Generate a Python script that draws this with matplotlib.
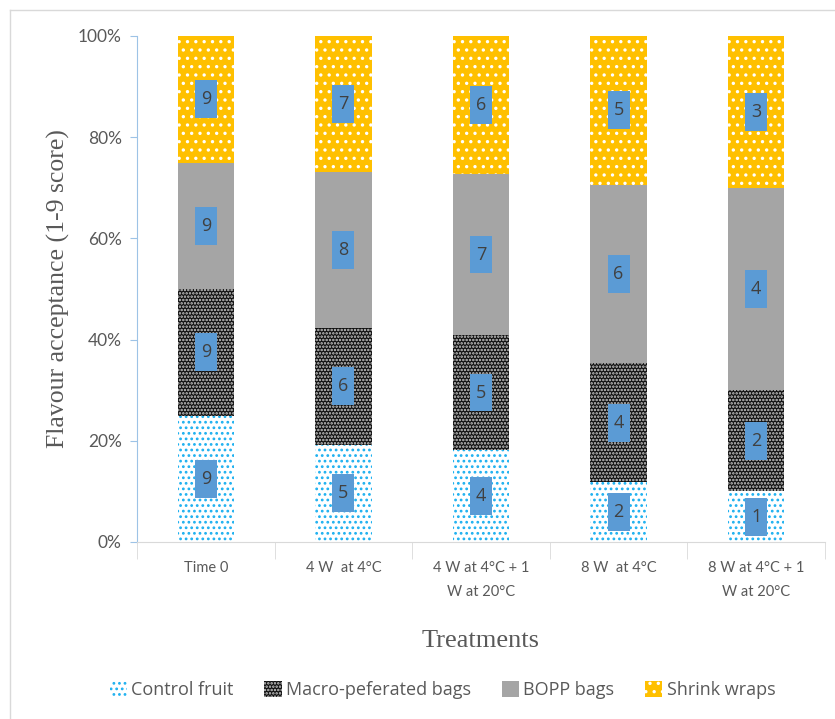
import numpy as np
import matplotlib.pyplot as plt
from matplotlib.lines import Line2D
from matplotlib.ticker import PercentFormatter

treatments = ['Time 0', '4 W  at 4°C', '4 W at 4°C + 1\nW at 20°C', '8 W  at 4°C', '8 W at 4°C + 1\nW at 20°C']
series = ['Control fruit', 'Macro-peferated bags', 'BOPP bags', 'Shrink wraps']
control = [9, 5, 4, 2, 1]
macro = [9, 6, 5, 4, 2]
bopp = [9, 8, 7, 6, 4]
shrink = [9, 7, 6, 5, 3]

scores = np.array([control, macro, bopp, shrink], dtype=float)
shares = scores / scores.sum(axis=0) * 100

# face, hatch colour, hatch
styles = [('white', '#1CB0F0', '...'),
          ('#111111', '#cfcfcf', '.....'),
          ('#A5A5A5', '#A5A5A5', None),
          ('#FFC000', 'white', '..')]

plt.rcParams['hatch.linewidth'] = 1.2
fig = plt.figure(figsize=(8.35, 7.19), dpi=100)
ax = fig.add_axes([137/835, 1-542/719, (825-137)/835, (542-36)/719])

x = np.arange(len(treatments))
bottom = np.zeros(len(treatments))
for i, name in enumerate(series):
    face, hc, hatch = styles[i]
    ax.bar(x, shares[i], 0.41, bottom=bottom, color=face, edgecolor=hc,
           hatch=hatch, linewidth=0, label=name)
    mids = bottom + shares[i]/2
    # value boxes
    ax.bar(x, 7.5, 0.16, bottom=mids - 3.75, color='#5B9BD5', linewidth=0, zorder=3)
    for xi, m, v in zip(x, mids, scores[i]):
        ax.text(xi, m, '%d' % v, ha='center', va='center', fontsize=13,
                color='#404040', family='Open Sans', zorder=4)
    bottom += shares[i]

ax.set_xlim(-0.5, len(treatments) - 0.5)
ax.set_ylim(0, 100)
ax.yaxis.set_major_formatter(PercentFormatter(decimals=0))
ax.set_yticks(np.arange(0, 101, 20))
ax.set_xticks(x)
ax.set_xticklabels(treatments, linespacing=1.9)
ax.set_xticks(np.arange(-0.5, len(treatments), 1), minor=True)
ax.tick_params(axis='x', which='major', length=0, pad=14, labelsize=10.5, labelcolor='#595959')
ax.tick_params(axis='x', which='minor', length=12, color='#D9D9D9')
ax.tick_params(axis='y', length=5, color='#9DC3E6', labelsize=12.5, labelcolor='#595959', pad=6)
for lab in ax.get_xticklabels() + ax.get_yticklabels():
    lab.set_family('Lato')

for s in ['top', 'right']:
    ax.spines[s].set_visible(False)
ax.spines['left'].set_color('#9DC3E6')
ax.spines['bottom'].set_color('#D9D9D9')

ax.set_ylabel('Flavour acceptance (1-9 score)', family='Liberation Serif', fontsize=18.5,
              color='#595959', labelpad=6)
ax.set_xlabel('Treatments', family='Liberation Serif', fontsize=19, color='#595959', labelpad=22)

leg = fig.legend(loc='center', bbox_to_anchor=(0.53, 1-690/719), ncol=4, frameon=False,
                 prop={'family': 'Open Sans', 'size': 13}, handlelength=0.95, handleheight=0.95,
                 handletextpad=0.25, columnspacing=1.7)
for t in leg.get_texts():
    t.set_color('#595959')

# chart area border remnants
fig.add_artist(Line2D([10/835, 10/835], [0, 1-10/719], color='#D9D9D9', lw=1))
fig.add_artist(Line2D([10/835, 1], [1-10/719, 1-10/719], color='#D9D9D9', lw=1))

fig.savefig('out.png', dpi=100)
